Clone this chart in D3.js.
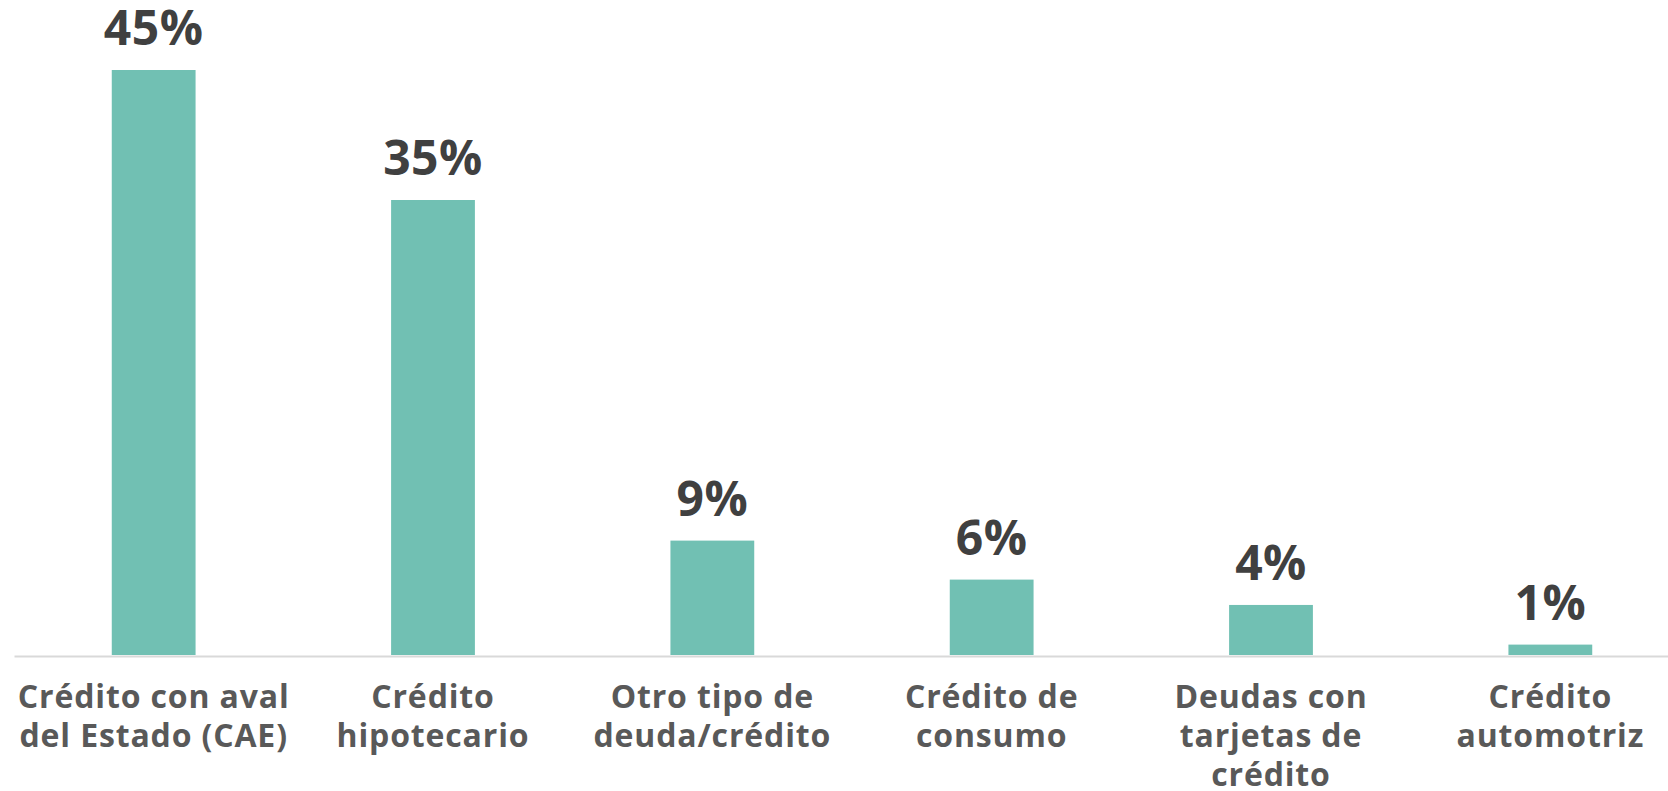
<!DOCTYPE html>
<html>
<head>
<meta charset="utf-8">
<script src="https://cdn.jsdelivr.net/npm/d3@7"></script>
<style>
  body { margin: 0; background: #fff; }
  svg { display: block; font-family: "Open Sans", sans-serif; }
</style>
</head>
<body>
<div id="chart"></div>
<script>
// Data
const categories = [
  "Crédito con aval\ndel Estado (CAE)",
  "Crédito\nhipotecario",
  "Otro tipo de\ndeuda/crédito",
  "Crédito de\nconsumo",
  "Deudas con\ntarjetas de\ncrédito",
  "Crédito\nautomotriz",
];
const values = [45, 35, 8.8, 5.8, 3.85, 0.8];
const valueLabels = ["45%", "35%", "9%", "6%", "4%", "1%"];

const width = 1668;
const height = 791;
const baseline = 655;

const svg = d3
  .select("#chart")
  .append("svg")
  .attr("width", width)
  .attr("height", height);

const x = d3
  .scaleBand()
  .domain(categories)
  .range([14, 1690])
  .paddingInner(0.7)
  .paddingOuter(0.35);

const y = d3.scaleLinear().domain([0, 45]).range([baseline, 70]);

// bars
svg
  .append("g")
  .selectAll("rect")
  .data(values)
  .join("rect")
  .attr("x", (d, i) => x(categories[i]))
  .attr("width", x.bandwidth())
  .attr("y", (d) => y(d))
  .attr("height", (d) => y(0) - y(d))
  .attr("fill", "#71c0b3");

// value labels
svg
  .append("g")
  .selectAll("text")
  .data(values)
  .join("text")
  .attr("x", (d, i) => x(categories[i]) + x.bandwidth() / 2)
  .attr("y", (d) => y(d) - 25)
  .attr("text-anchor", "middle")
  .attr("font-size", 48)
  .attr("font-weight", 700)
  .attr("letter-spacing", 0.5)
  .attr("fill", "#404040")
  .text((d, i) => valueLabels[i]);

// x axis
const gx = svg
  .append("g")
  .attr("transform", `translate(0,${baseline + 1})`)
  .call(d3.axisBottom(x).tickSize(0).tickSizeOuter(0))
  .call((g) => g.select(".domain").attr("stroke", "#d9d9d9").attr("stroke-width", 2))
  .call((g) => g.selectAll(".tick text").remove());

gx.selectAll(".tick")
  .append("text")
  .attr("text-anchor", "middle")
  .attr("font-size", 32)
  .attr("font-weight", 700)
  .attr("letter-spacing", 0.85)
  .attr("fill", "#595959")
  .attr("font-family", "\"Open Sans\", sans-serif")
  .each(function (d) {
    const lines = d.split("\n");
    d3.select(this)
      .selectAll("tspan")
      .data(lines)
      .join("tspan")
      .attr("x", 0)
      .attr("y", (l, i) => 52 + i * 39)
      .text((l) => l);
  });
</script>
</body>
</html>
